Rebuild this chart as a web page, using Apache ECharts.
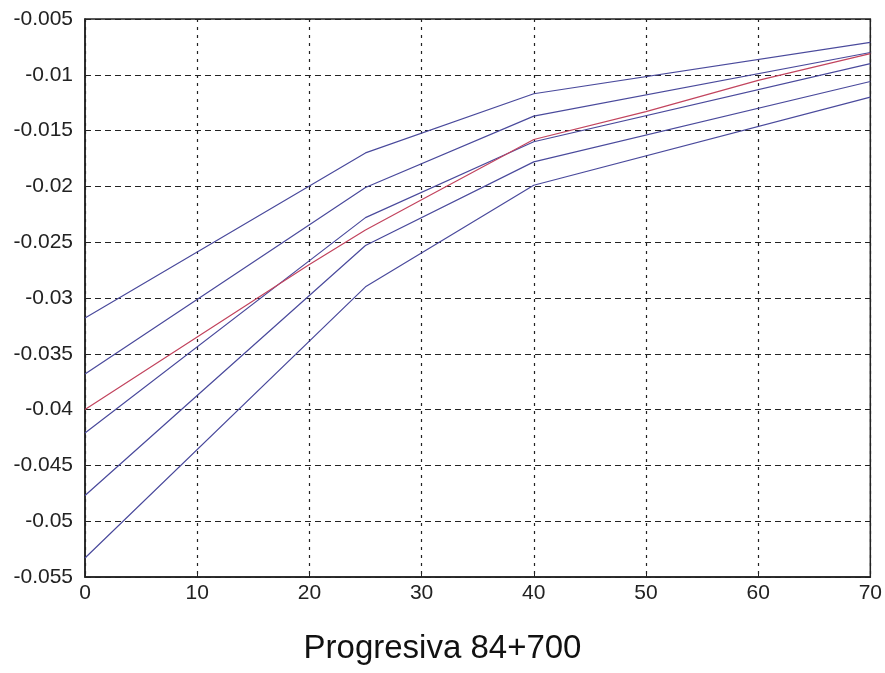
<!DOCTYPE html>
<html>
<head>
<meta charset="utf-8">
<script src="https://cdn.jsdelivr.net/npm/echarts@6/dist/echarts.min.js"></script>
<style>
  html, body { margin: 0; padding: 0; background: #fff; }
  #chart { width: 885px; height: 673px; }
</style>
</head>
<body>
<div id="chart"></div>
<script>
// distancias (x) y valores
var xBlue = [0, 25, 40, 70];
var blue1 = [-0.0318, -0.0170, -0.0117, -0.0071];
var blue2 = [-0.0368, -0.0201, -0.0137, -0.0080];
var blue3 = [-0.0421, -0.0228, -0.0160, -0.0090];
var blue4 = [-0.0477, -0.0253, -0.0178, -0.0106];
var blue5 = [-0.0533, -0.0290, -0.0199, -0.0120];

var xRed = [0, 10, 20, 25, 30, 40, 50, 60, 70];
var red = [-0.0400, -0.0335, -0.0270, -0.0239, -0.0212, -0.0158, -0.0133, -0.0105, -0.0081];

var xTicks = [0, 10, 20, 30, 40, 50, 60, 70];
var yTicks = [-0.055, -0.05, -0.045, -0.04, -0.035, -0.03, -0.025, -0.02, -0.015, -0.01, -0.005];
var titleText = 'Progresiva 84+700';

var pairs = function(xs, ys) {
  var out = [];
  for (var i = 0; i < xs.length; i++) {
    out.push([xs[i], ys[i]]);
  }
  return out;
};

var lineSerie = function(xs, ys, color) {
  return {
    type: 'line',
    data: pairs(xs, ys),
    symbol: 'none',
    smooth: false,
    lineStyle: { color: color, width: 1.2 },
    z: 3
  };
};

var blueColor = '#4a4a9c';
var redColor = '#c2445e';
var font = 'Liberation Sans, Arial, sans-serif';

var chart = echarts.init(document.getElementById('chart'));

var options = {
  animation: false,
  backgroundColor: '#ffffff',
  title: {
    text: titleText,
    left: 'center',
    top: 627,
    textStyle: { fontFamily: font, fontSize: 33, fontWeight: 'normal', color: '#111' }
  },
  grid: {
    left: 85, right: 14, top: 19, bottom: 96,
    show: true,
    borderColor: '#222',
    borderWidth: 1.5
  },
  xAxis: {
    type: 'value',
    min: xTicks[0],
    max: xTicks[xTicks.length - 1],
    interval: 10,
    axisLine: { show: true, lineStyle: { color: '#222', width: 1.5 } },
    axisTick: { show: true, inside: true, length: 6, lineStyle: { color: '#222' } },
    axisLabel: { fontFamily: font, fontSize: 21, color: '#222', margin: 6 },
    splitLine: { show: true, lineStyle: { color: '#222', type: [3, 5], width: 1.2 } }
  },
  yAxis: {
    type: 'value',
    min: yTicks[0],
    max: yTicks[yTicks.length - 1],
    interval: 0.005,
    axisLine: { show: true, lineStyle: { color: '#222', width: 1.5 } },
    axisTick: { show: true, inside: true, length: 6, lineStyle: { color: '#222' } },
    axisLabel: {
      fontFamily: font, fontSize: 21, color: '#222', margin: 12,
      formatter: function(v) {
        return parseFloat(v.toFixed(4)).toString();
      }
    },
    splitLine: { show: true, lineStyle: { color: '#222', type: [6, 4], width: 1.2 } }
  },
  series: [
    lineSerie(xBlue, blue1, blueColor),
    lineSerie(xBlue, blue2, blueColor),
    lineSerie(xBlue, blue3, blueColor),
    lineSerie(xBlue, blue4, blueColor),
    lineSerie(xBlue, blue5, blueColor),
    lineSerie(xRed, red, redColor)
  ]
};

chart.setOption(options);
</script>
</body>
</html>
